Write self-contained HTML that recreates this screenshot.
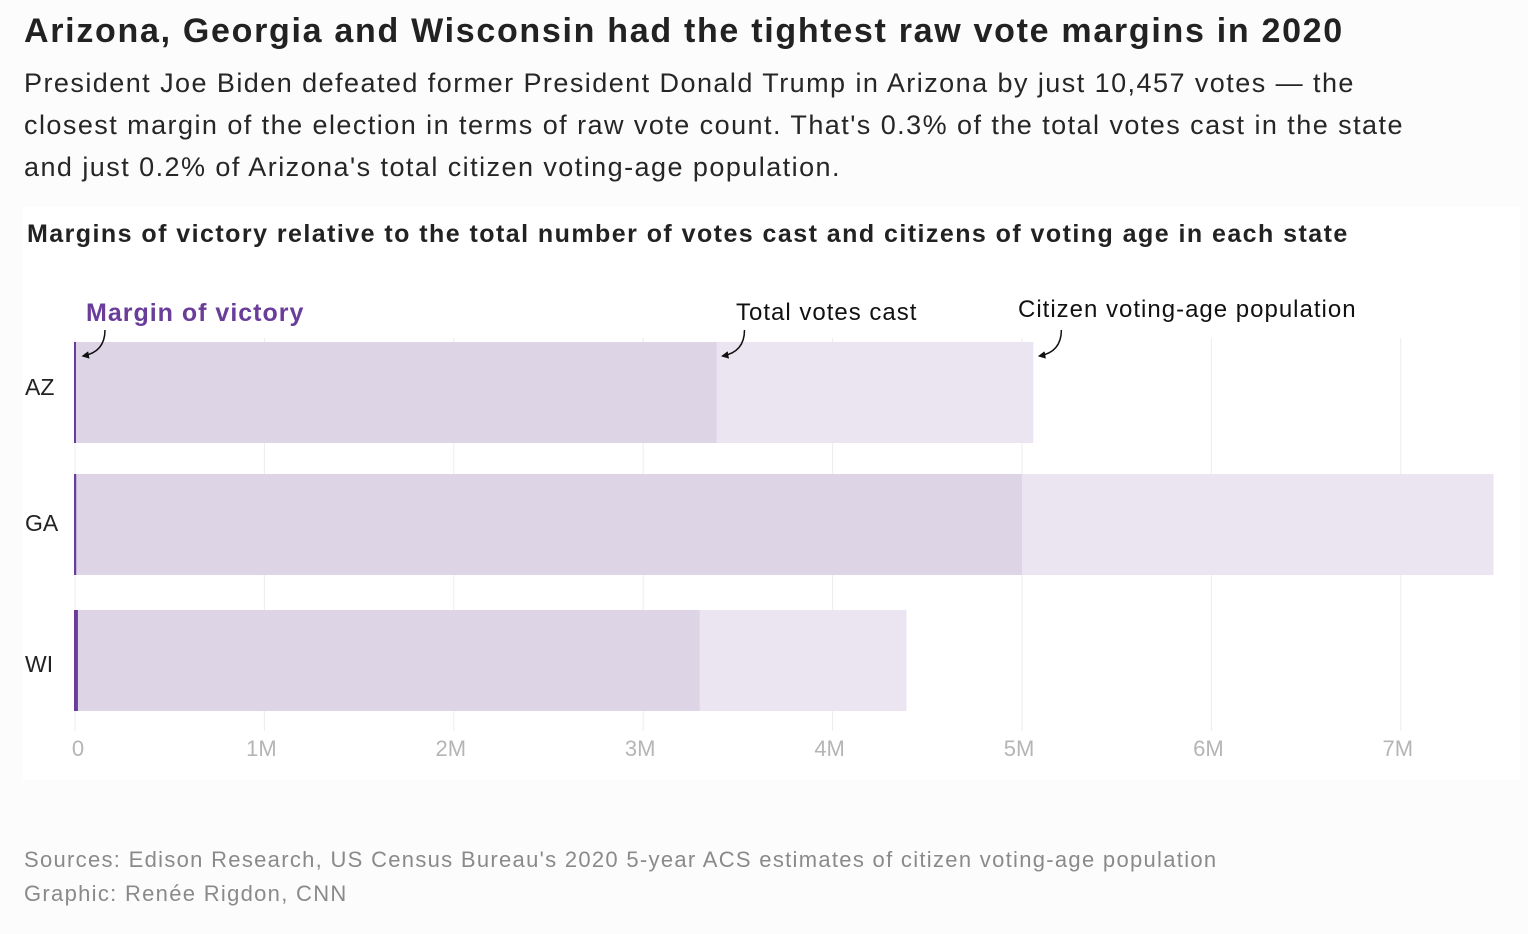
<!DOCTYPE html>
<html><head><meta charset="utf-8"><style>
body{margin:0;width:1528px;height:934px;background:#fcfcfc;font-family:"Liberation Sans",sans-serif;position:relative;overflow:hidden}
.t{position:absolute;left:24px;top:12px;font-size:34px;font-weight:bold;color:#222;letter-spacing:1.7px;white-space:nowrap}
.s{position:absolute;left:24px;top:62px;width:1480px;font-size:27px;line-height:42px;color:#262626;letter-spacing:1.45px;white-space:nowrap}
.src{position:absolute;left:24px;font-size:22px;color:#8a8a8a;letter-spacing:1.3px;white-space:nowrap}
</style></head><body>
<div class="t">Arizona, Georgia and Wisconsin had the tightest raw vote margins in 2020</div>
<div class="s">President Joe Biden defeated former President Donald Trump in Arizona by just 10,457 votes — the<br>closest margin of the election in terms of raw vote count. That's 0.3% of the total votes cast in the state<br>and just 0.2% of Arizona's total citizen voting-age population.</div>
<svg id="c" width="1528" height="934" style="position:absolute;left:0;top:0"></svg>
<div class="src" style="top:847px">Sources: Edison Research, US Census Bureau's 2020 5-year ACS estimates of citizen voting-age population</div>
<div class="src" style="top:881px">Graphic: Renée Rigdon, CNN</div>
<script>
const states=["AZ","GA","WI"];
const margins=[10457,11779,20682];
const totalVotes=[3387000,5000000,3298000];
const cvap=[5060000,7490000,4390000];
const ticks=[0,1e6,2e6,3e6,4e6,5e6,6e6,7e6];
const tickLabels=["0","1M","2M","3M","4M","5M","6M","7M"];
const NS="http://www.w3.org/2000/svg";
const svg=document.getElementById('c');
function x(v){return 75+v*189.4/1e6;}
const rowTop=[342,474,610], bh=101, labelOff=[53,57,62];
function mk(t,a,p){const e=document.createElementNS(NS,t);for(const k in a)e.setAttribute(k,a[k]);(p||svg).appendChild(e);return e;}
const panel=mk('rect',{x:23,y:207,width:1497,height:573,fill:'#fff'});


const st=mk('text',{x:27,y:242,'font-size':25,'font-weight':'bold',fill:'#222','letter-spacing':1.45});
st.textContent="Margins of victory relative to the total number of votes cast and citizens of voting age in each state";


ticks.forEach((t,i)=>{
  const l=mk('line',{x1:x(t),x2:x(t),y1:338,y2:731,stroke:'#ececec','stroke-width':1});
  
  
  const tx=mk('text',{x:x(t)+(i==0?3:-3),y:756,'font-size':22,fill:'#b5b5b5','text-anchor':'middle'});
  tx.textContent=tickLabels[i];
  
  
});
states.forEach((s,i)=>{
  const y=rowTop[i];
  const r1=mk('rect',{x:x(0),y:y,width:x(cvap[i])-x(0),height:bh,fill:'#ebe5f2'});
  
  
  const r2=mk('rect',{x:x(0),y:y,width:x(totalVotes[i])-x(0),height:bh,fill:'#ddd4e5'});
  
  
  const r3=mk('rect',{x:x(0)-1,y:y,width:Math.max(2,x(margins[i])-x(0)),height:bh,fill:'#6a3d9a'});
  
  
  const lb=mk('text',{x:25,y:y+labelOff[i],'font-size':23,fill:'#222'});
  lb.textContent=s;
  
  
});
mk('defs',{}).innerHTML='<marker id="ah" viewBox="0 0 10 10" refX="8" refY="5" markerWidth="5" markerHeight="5" orient="auto"><path d="M0,0L10,5L0,10z" fill="#111"/></marker>';
function ann(text,tx,ty,ax,color,bold){
  const t=mk('text',{x:tx,y:ty,'font-size':bold?25:24,fill:color,'font-weight':bold?'bold':'normal','letter-spacing':1});
  t.textContent=text;
  
  
  const p=mk('path',{d:`M${ax+26},330 Q${ax+26},352 ${ax+4},356`,fill:'none',stroke:'#111','stroke-width':1.5,'marker-end':'url(#ah)'});
  
  
}
ann("Margin of victory",86,321,x(margins[0])+2,'#6a3d9a',true);
ann("Total votes cast",736,320,x(totalVotes[0])+2,'#111',false);
ann("Citizen voting-age population",1018,317,x(cvap[0])+2,'#111',false);
</script>
</body></html>
